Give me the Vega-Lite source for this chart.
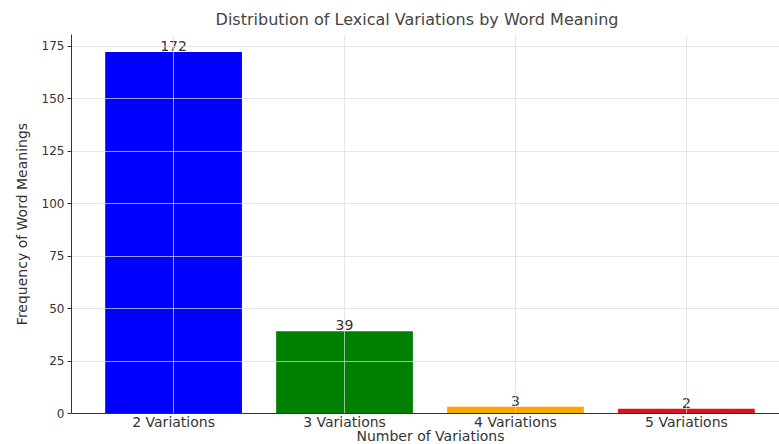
{
  "$schema": "https://vega.github.io/schema/vega-lite/v6.json",
  "autosize": "none",
  "width": 708,
  "height": 379,
  "padding": {"left": 71, "top": 34, "right": 0, "bottom": 31},
  "background": "white",
  "title": {
    "text": "Distribution of Lexical Variations by Word Meaning",
    "font": "DejaVu Sans",
    "fontSize": 16,
    "fontWeight": "normal",
    "color": "#444444",
    "offset": 6,
    "anchor": "middle",
    "dx": -8
  },
  "config": {
    "view": {"stroke": null},
    "axis": {
      "labelFont": "DejaVu Sans",
      "titleFont": "DejaVu Sans",
      "labelColor": "#333333",
      "titleColor": "#333333",
      "labelFontSize": 12,
      "titleFontSize": 12,
      "titleFontWeight": "normal",
      "domainColor": "#333333",
      "tickColor": "#333333",
      "gridColor": "#dddddd",
      "gridOpacity": 0.7
    }
  },
  "data": {
    "values": [
      {"variation": "2 Variations", "frequency": 172, "color": "#0000ff"},
      {"variation": "3 Variations", "frequency": 39, "color": "#008000"},
      {"variation": "4 Variations", "frequency": 3, "color": "#ffa500"},
      {"variation": "5 Variations", "frequency": 2, "color": "#e01020"}
    ]
  },
  "encoding": {
    "x": {
      "field": "variation",
      "type": "nominal",
      "sort": null,
      "scale": {"paddingInner": 0.2, "paddingOuter": 0.2, "range": [0, 718]},
      "axis": {
        "title": "Number of Variations",
        "labelAngle": 0,
        "labelFontSize": 14,
        "titleFontSize": 14,
        "grid": true,
        "zindex": 1,
        "tickSize": 0,
        "labelPadding": 2,
        "titlePadding": 0,
        "titleX": 359,
        "bandPosition": 0.5
      }
    },
    "y": {
      "field": "frequency",
      "type": "quantitative",
      "scale": {"domain": [0, 180.6], "nice": false},
      "axis": {
        "title": "Frequency of Word Meanings",
        "values": [0, 25, 50, 75, 100, 125, 150, 175],
        "grid": true,
        "zindex": 1,
        "tickSize": 4,
        "labelPadding": 3,
        "titlePadding": 12,
        "titleFontSize": 14
      }
    }
  },
  "layer": [
    {
      "mark": {"type": "bar"},
      "encoding": {
        "color": {"field": "color", "type": "nominal", "scale": null}
      }
    },
    {
      "mark": {
        "type": "text",
        "baseline": "bottom",
        "dy": 2,
        "font": "DejaVu Sans",
        "fontSize": 14,
        "color": "#333333"
      },
      "encoding": {
        "text": {"field": "frequency", "type": "quantitative"}
      }
    }
  ]
}
